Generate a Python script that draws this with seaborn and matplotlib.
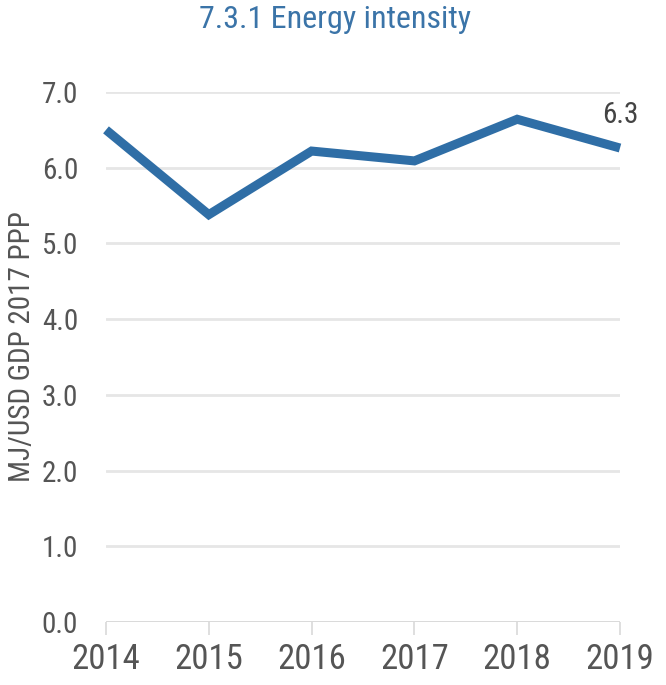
import matplotlib
matplotlib.use("Agg")
import matplotlib.pyplot as plt
from matplotlib import font_manager
import seaborn as sns
import pandas as pd

years = [2014, 2015, 2016, 2017, 2018, 2019]
intensity = [6.50, 5.38, 6.22, 6.09, 6.64, 6.26]
last_label = "6.3"
yticks = [0, 1, 2, 3, 4, 5, 6, 7]
title = "7.3.1 Energy intensity"
ylabel = "MJ/USD GDP 2017 PPP"

df = pd.DataFrame({"year": years, "value": intensity})

sns.set_theme(style="white")
available = {f.name for f in font_manager.fontManager.ttflist}
cond = [f for f in ["Roboto Condensed", "Liberation Sans Narrow", "Open Sans Condensed"] if f in available]
fam = (cond[:1] if cond else []) + ["Roboto", "DejaVu Sans"]
plt.rcParams["font.family"] = fam
plt.rcParams["font.stretch"] = "condensed"

fig = plt.figure(figsize=(6.66, 6.85), dpi=100)
ax = fig.add_axes([106/666, 1-622/685, (620-106)/666, (622-92)/685])

line_color = "#2f6ea6"
sns.lineplot(data=df, x="year", y="value", ax=ax, color=line_color,
             linewidth=6.5, solid_joinstyle="miter", solid_capstyle="butt", clip_on=False)

ax.set_xlim(2014, 2019)
ax.set_ylim(0, 7)
ax.set_yticks(yticks)
ax.set_yticklabels([f"{v:.1f}" for v in yticks])
ax.set_xticks(years)
ax.set_xticklabels([str(y) for y in years])

for v in yticks:
    ax.axhline(v, color="#e6e6e6", linewidth=2, zorder=0)
ax.axhline(0, color="#d9d9d9", linewidth=2, zorder=1)

for s in ax.spines.values():
    s.set_visible(False)

if cond:
    ysz, xsz, lsz, asz, tsz = 21, 25, 21, 21, 23
else:
    ysz, xsz, lsz, asz, tsz = 18, 21, 17, 18, 20

ax.tick_params(axis="y", length=0, pad=20, labelsize=ysz, labelcolor="#555555")
ax.tick_params(axis="x", length=9, width=1.2, color="#d9d9d9", pad=6,
               labelsize=xsz, labelcolor="#555555", bottom=True)

ax.set_xlabel("")
ax.set_ylabel(ylabel, fontsize=lsz, color="#555555")
ax.yaxis.set_label_coords(-70/514, (622-347)/530)

ax.text(years[-1], intensity[-1] + 0.25, last_label, ha="center", va="bottom",
        fontsize=asz, color="#444444")

fig.text(335/666, 1-20/685, title, ha="center", va="center",
         fontsize=tsz, color="#3b74a8")

fig.savefig("out.png", dpi=100)
